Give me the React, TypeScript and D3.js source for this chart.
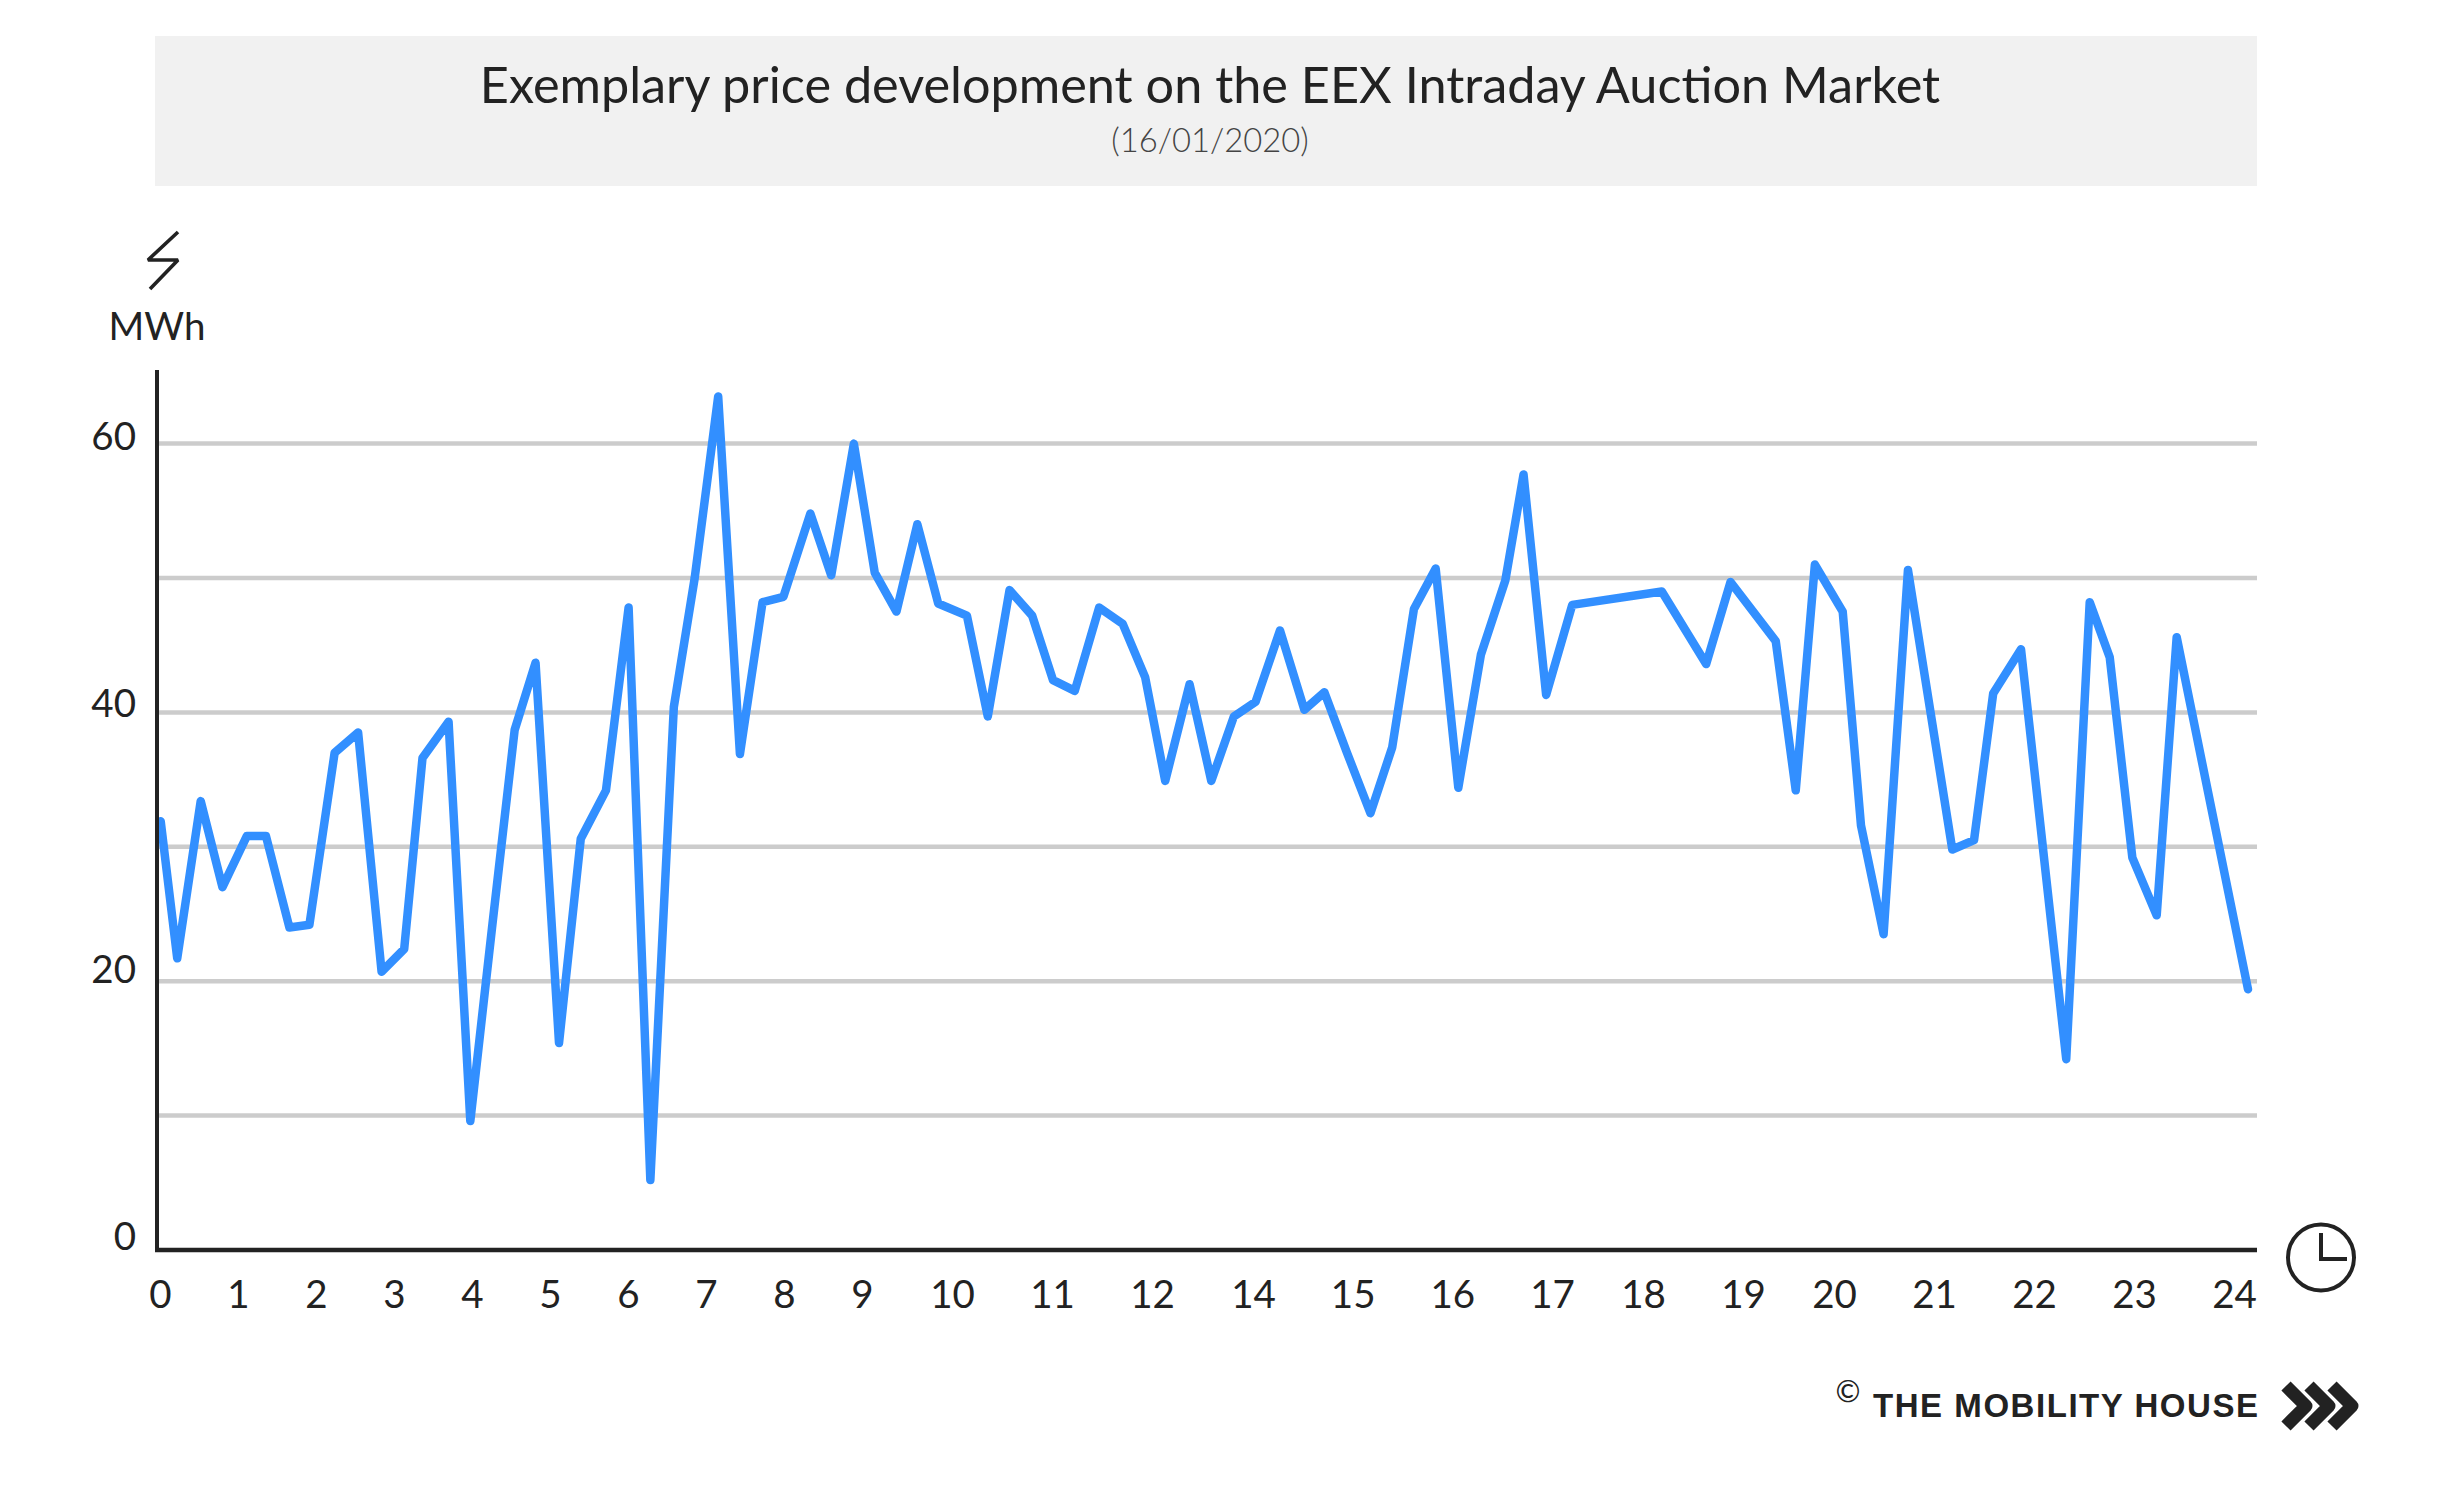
import React, { useEffect, useRef } from 'react';
import * as d3 from 'd3';

const WIDTH = 2456;
const HEIGHT = 1490;

const titleText = 'Exemplary price development on the EEX Intraday Auction Market';
const subtitleText = '(16/01/2020)';
const unitText = 'MWh';
const logoText = 'THE MOBILITY HOUSE';

// hour of day for each visible vertex of the line
const hours = [
  0, 0.19, 0.46, 0.71, 0.99, 1.21, 1.48, 1.71, 2.0, 2.27, 2.54, 2.8, 3.01, 3.31, 3.56, 3.81,
  4.07, 4.31, 4.58, 4.83, 5.12, 5.38, 5.63, 5.9, 6.14, 6.41, 6.66, 6.92, 7.16, 7.47, 7.71, 7.97,
  8.21, 8.46, 8.7, 8.94, 9.27, 9.51, 9.76, 10.02, 10.26, 10.51, 10.79, 11.06, 11.32, 11.55, 11.83, 12.08,
  12.34, 12.59, 12.87, 13.15, 13.38, 13.64, 13.91, 14.16, 14.41, 14.66, 14.92, 15.18, 15.46, 15.67, 15.93, 16.23,
  17.26, 17.77, 18.05, 18.57, 18.8, 19.02, 19.34, 19.55, 19.81, 20.09, 20.6, 20.85, 21.07, 21.39, 21.91, 22.18,
  22.41, 22.67, 22.95, 23.18, 24,
];

const prices = [
  31.9, 21.7, 33.4, 27.0, 30.8, 30.8, 24.0, 24.2, 37.0, 38.5, 20.7, 22.4, 36.6, 39.3, 9.6, 24.0,
  38.7, 43.7, 15.4, 30.6, 34.2, 47.8, 5.2, 40.4, 50.0, 63.5, 36.9, 48.2, 48.6, 54.8, 50.2, 60.0,
  50.4, 47.5, 54.0, 48.1, 47.2, 39.7, 49.1, 47.2, 42.4, 41.6, 47.8, 46.6, 42.6, 34.9, 42.1, 34.9,
  39.7, 40.8, 46.1, 40.2, 41.5, 37.0, 32.5, 37.4, 47.7, 50.7, 34.4, 44.3, 49.8, 57.7, 41.3, 48.0,
  49.0, 43.6, 49.7, 45.3, 34.2, 51.0, 47.5, 31.6, 23.5, 50.6, 29.8, 30.5, 41.4, 44.7, 14.2, 48.2,
  44.1, 29.2, 24.9, 45.6, 19.4,
];

const gridValues = [10, 20, 30, 40, 50, 60];
const yTickValues = [0, 20, 40, 60];
// the source skips 13 on its time axis
const xTickValues = [0, 1, 2, 3, 4, 5, 6, 7, 8, 9, 10, 11, 12, 14, 15, 16, 17, 18, 19, 20, 21, 22, 23, 24];

const FONT = 'Lato, sans-serif';
const INK = '#222222';

const App: React.FC = () => {
  const svgRef = useRef<SVGSVGElement>(null);

  useEffect(() => {
    if (!svgRef.current) return;
    const svg = d3.select(svgRef.current);
    svg.selectAll('*').remove();

    const plotLeft = 157;
    const plotRight = 2257;
    const plotBottom = 1250;
    const plotTop = 370;

    const xScale = d3.scaleLinear().domain([0, 24]).range([160.7, 2248]);
    const yScale = d3.scaleLinear().domain([0, 60]).range([plotBottom, 443.6]);

    // tick labels in the source are hand placed, so they get their own scales
    const xLabelScale = d3
      .scaleLinear()
      .domain([0, 9, 10, 12, 14, 17, 18, 19, 20, 24])
      .range([160, 862, 952, 1152, 1253, 1552, 1643, 1743, 1834, 2234]);
    const yLabelScale = d3.scaleLinear().domain([0, 60]).range([1249.5, 449.5]);

    // title band
    svg.append('rect')
      .attr('x', 155)
      .attr('y', 36)
      .attr('width', plotRight - 155)
      .attr('height', 150)
      .attr('fill', '#f1f1f1');
    svg.append('text')
      .attr('x', 1210)
      .attr('y', 103)
      .attr('text-anchor', 'middle')
      .attr('font-family', FONT)
      .attr('font-size', 50.4)
      .attr('fill', INK)
      .text(titleText);
    svg.append('text')
      .attr('x', 1210)
      .attr('y', 152)
      .attr('text-anchor', 'middle')
      .attr('font-family', FONT)
      .attr('font-weight', 300)
      .attr('font-size', 32.8)
      .attr('fill', '#444444')
      .text(subtitleText);

    // grid
    svg.append('g')
      .selectAll('line')
      .data(gridValues)
      .join('line')
      .attr('x1', plotLeft)
      .attr('x2', plotRight)
      .attr('y1', (d) => yScale(d))
      .attr('y2', (d) => yScale(d))
      .attr('stroke', '#cccccc')
      .attr('stroke-width', 4.5);

    // data line
    const line = d3
      .line<number>()
      .x((_, i) => xScale(hours[i]))
      .y((d) => yScale(d));
    svg.append('path')
      .datum(prices)
      .attr('fill', 'none')
      .attr('stroke', '#328fff')
      .attr('stroke-width', 8.5)
      .attr('stroke-linejoin', 'round')
      .attr('stroke-linecap', 'round')
      .attr('d', line);

    // axis lines
    svg.append('line')
      .attr('x1', plotLeft)
      .attr('x2', plotLeft)
      .attr('y1', plotTop)
      .attr('y2', plotBottom)
      .attr('stroke', INK)
      .attr('stroke-width', 4);
    svg.append('line')
      .attr('x1', plotLeft - 2)
      .attr('x2', plotRight)
      .attr('y1', plotBottom)
      .attr('y2', plotBottom)
      .attr('stroke', INK)
      .attr('stroke-width', 4.5);

    const styleAxis = (g: d3.Selection<SVGGElement, unknown, null, undefined>) => {
      g.select('.domain').remove();
      g.attr('font-family', FONT).attr('font-size', 38.5);
      g.selectAll('text').attr('fill', INK).attr('dy', 0);
    };

    svg.append('g')
      .attr('transform', 'translate(0,1308)')
      .call(
        d3.axisBottom(xLabelScale)
          .tickValues(xTickValues)
          .tickSize(0)
          .tickPadding(0)
          .tickFormat((d) => String(d))
      )
      .call(styleAxis)
      .selectAll('text')
      .attr('y', 0);

    svg.append('g')
      .attr('transform', 'translate(136,0)')
      .call(
        d3.axisLeft(yLabelScale)
          .tickValues(yTickValues)
          .tickSize(0)
          .tickPadding(0)
          .tickFormat((d) => String(d))
      )
      .call(styleAxis);

    // unit label and bolt
    svg.append('text')
      .attr('x', 157)
      .attr('y', 340)
      .attr('text-anchor', 'middle')
      .attr('font-family', FONT)
      .attr('font-size', 38.5)
      .attr('fill', INK)
      .text(unitText);
    svg.append('path')
      .attr('d', 'M178,232 L148,260 L178,260 L150,289')
      .attr('fill', 'none')
      .attr('stroke', INK)
      .attr('stroke-width', 3.6)
      .attr('stroke-linejoin', 'bevel');

    // clock
    svg.append('circle')
      .attr('cx', 2321)
      .attr('cy', 1257.5)
      .attr('r', 33)
      .attr('fill', 'none')
      .attr('stroke', INK)
      .attr('stroke-width', 4);
    svg.append('path')
      .attr('d', 'M2321,1233 L2321,1259 L2347,1259')
      .attr('fill', 'none')
      .attr('stroke', INK)
      .attr('stroke-width', 4);

    // logo
    svg.append('text')
      .attr('x', 1848)
      .attr('y', 1402)
      .attr('text-anchor', 'middle')
      .attr('font-family', FONT)
      .attr('font-size', 30)
      .attr('fill', INK)
      .text('©');
    svg.append('text')
      .attr('x', 1873)
      .attr('y', 1417)
      .attr('textLength', 385)
      .attr('lengthAdjust', 'spacing')
      .attr('font-family', '"Liberation Sans", sans-serif')
      .attr('font-weight', 700)
      .attr('font-size', 33)
      .attr('fill', INK)
      .text(logoText);
    svg.append('g')
      .selectAll('path')
      .data([0, 23, 46])
      .join('path')
      .attr('d', (d) => `M${2286 + d},1386 L${2306 + d},1406 L${2286 + d},1426`)
      .attr('fill', 'none')
      .attr('stroke', INK)
      .attr('stroke-width', 13)
      .attr('stroke-linejoin', 'round');
  }, []);

  return (
    <svg
      ref={svgRef}
      width={WIDTH}
      height={HEIGHT}
      style={{ position: 'absolute', left: 0, top: 0, background: '#ffffff' }}
    />
  );
};

export default App;
